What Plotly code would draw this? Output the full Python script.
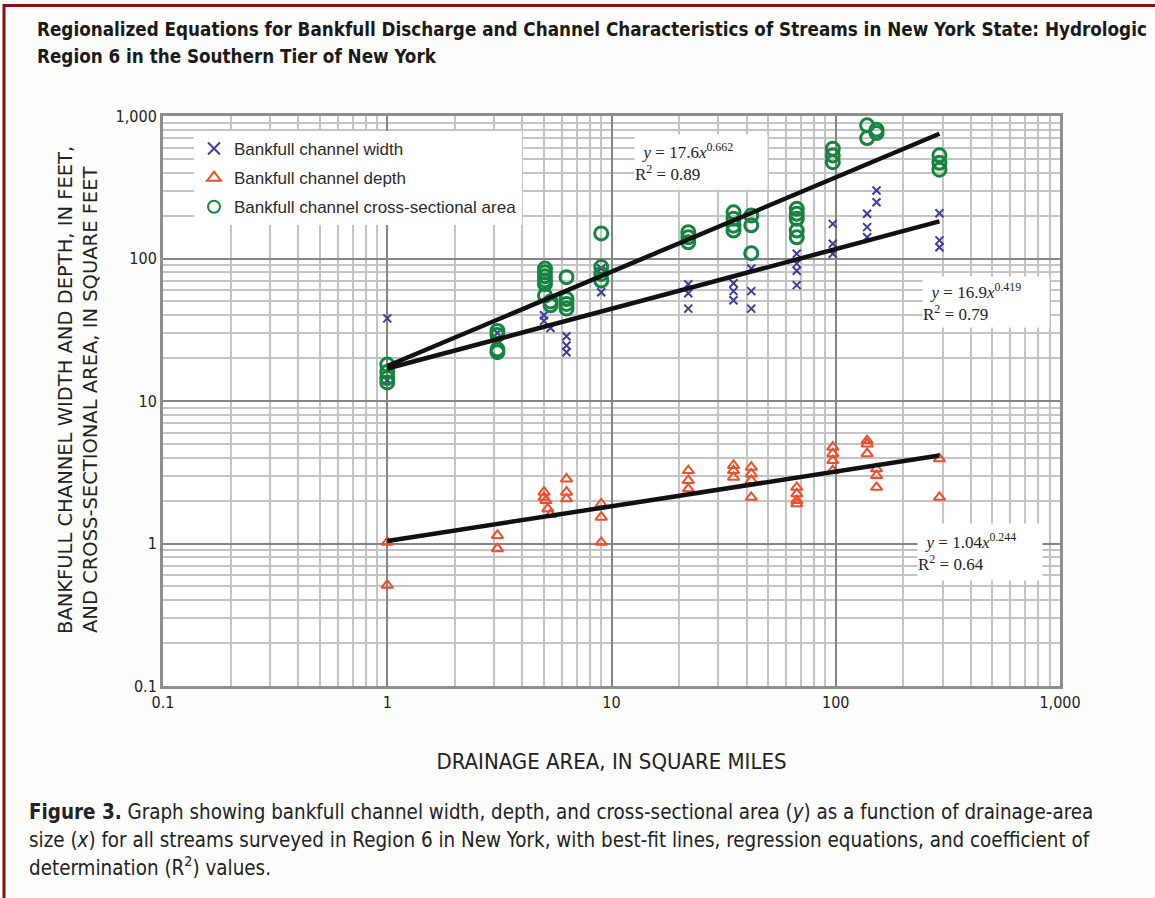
import plotly.graph_objects as go

# ---------------- data ----------------
width_x = [1, 1, 3.1, 5.0, 5.0, 5.35, 6.3, 6.3, 6.3, 9, 9,
           22, 22, 22, 35, 35, 35, 42, 42, 42, 67, 67, 67, 67,
           97, 97, 97, 138, 138, 138, 152, 152, 290, 290, 290]
width_y = [38, 14, 30, 40, 36.5, 32.5, 28.5, 24.5, 22, 85, 58,
           66, 57, 44.5, 67, 59, 51, 85, 59, 44.5, 108, 92, 82, 65,
           175, 127, 108, 206, 166, 141, 300, 248, 208, 134, 120]

depth_x = [1, 1, 3.1, 3.1, 5.0, 5.0, 5.1, 5.2, 5.35, 6.3, 6.3, 6.3, 9, 9, 9,
           22, 22, 22, 35, 35, 35, 42, 42, 42, 42, 67, 67, 67, 67,
           97, 97, 97, 97, 138, 138, 138, 152, 152, 152, 290, 290]
depth_y = [1.02, 0.51, 1.14, 0.92, 2.29, 2.11, 2.0, 1.75, 1.6, 2.84, 2.29, 2.06, 1.9, 1.53, 1.02,
           3.25, 2.77, 2.42, 3.53, 3.25, 2.92, 3.43, 3.08, 2.77, 2.11, 2.48, 2.23, 2.0, 1.9,
           4.74, 4.27, 3.82, 3.25, 5.28, 5.0, 4.27, 3.34, 3.0, 2.48, 3.93, 2.11]

area_x = [1, 1, 1, 1, 3.1, 3.1, 3.1, 3.1, 5.05, 5.05, 5.05, 5.05, 5.05, 5.05, 5.35, 5.35,
          6.3, 6.3, 6.3, 6.3, 9, 9, 9, 9, 22, 22, 22, 35, 35, 35, 35, 42, 42, 42,
          67, 67, 67, 67, 67, 97, 97, 97, 138, 138, 152, 152, 290, 290, 290]
area_y = [18, 16, 14.5, 13.5, 31, 29, 23, 22, 85, 80, 75, 70, 66, 55, 50, 47,
          74, 52, 48, 44.5, 150, 87, 78, 70, 153, 141, 130, 211, 190, 170, 157, 200, 171, 109,
          223, 206, 190, 157, 141, 589, 529, 474, 860, 700, 800, 760, 530, 470, 420]

# best-fit line end points (from the regression equations shown)
fit_x = [1, 290]
width_fit = [16.9, 182]
area_fit = [17.6, 750]
depth_fit = [1.04, 4.15]

tick_vals = [0.1, 1, 10, 100, 1000]
tick_text = ["0.1", "1", "10", "100", "1,000"]

y_title_lines = ["BANKFULL CHANNEL WIDTH AND DEPTH, IN FEET,",
                 "AND CROSS-SECTIONAL AREA, IN SQUARE FEET"]

NARROW = "DejaVu Sans Condensed, Liberation Sans Narrow, Arial Narrow, sans-serif"
WIDE = "DejaVu Sans, Liberation Sans, Arial, sans-serif"
SANS = "Liberation Sans, Arial, sans-serif"
SERIF = "Liberation Serif, Times New Roman, serif"

C_WIDTH = "#3E3B9C"
C_DEPTH = "#EF4E2A"
C_AREA = "#15843E"

# plot area in pixels: left 163, right 1060, top 116, bottom 686
L, R, T, B = 163, 1060, 116, 686
W, H = 1155, 898


def px(x):
    return (x - L) / (R - L)


def py(y):
    return (B - y) / (B - T)


fig = go.Figure()

fig.add_trace(go.Scatter(
    x=width_x, y=width_y, mode="markers", name="Bankfull channel width",
    legendgroup="w",
    marker=dict(symbol="x-thin", size=8, color=C_WIDTH,
                line=dict(width=2, color=C_WIDTH))))
fig.add_trace(go.Scatter(
    x=depth_x, y=depth_y, mode="markers", name="Bankfull channel depth",
    legendgroup="d",
    marker=dict(symbol="triangle-up-open", size=10, color=C_DEPTH,
                line=dict(width=2, color=C_DEPTH))))
fig.add_trace(go.Scatter(
    x=area_x, y=area_y, mode="markers", name="Bankfull channel cross-sectional area",
    legendgroup="a",
    marker=dict(symbol="circle-open", size=13, color=C_AREA,
                line=dict(width=3, color=C_AREA))))

for yy in (area_fit, width_fit, depth_fit):
    fig.add_trace(go.Scatter(x=fit_x, y=yy, mode="lines", showlegend=False,
                             hoverinfo="skip",
                             line=dict(color="#111111", width=4.5)))

axis_common = dict(
    type="log", range=[-1, 3],
    tickvals=tick_vals, ticktext=tick_text,
    showgrid=True, gridcolor="#858585", gridwidth=1.5,
    minor=dict(dtick="D1", showgrid=True, gridcolor="#C4C4C4", gridwidth=2, ticks=""),
    showline=True, linecolor="#8E8E8E", linewidth=3, mirror=True,
    ticks="", zeroline=False,
    tickfont=dict(family=NARROW, size=16, color="#222222"),
)

fig.update_xaxes(**axis_common,
                 title=dict(text="DRAINAGE AREA, IN SQUARE MILES",
                            font=dict(family=NARROW, size=22, color="#222222"),
                            standoff=43))
fig.update_yaxes(**axis_common)

annotations = []
# y-axis title (two rotated lines, placed as in the reference)
for txt, xx, yy in zip(y_title_lines, [65, 90], [390, 400]):
    annotations.append(dict(
        xref="paper", yref="paper", x=px(xx), y=py(yy), xanchor="center", yanchor="middle",
        showarrow=False, text=txt, textangle=-90,
        font=dict(family=WIDE, size=19.5, color="#222222")))

# title
annotations.append(dict(
    xref="paper", yref="paper", x=px(35), y=py(30), xanchor="left", yanchor="middle",
    showarrow=False,
    text="<b>Regionalized Equations for Bankfull Discharge and Channel Characteristics of Streams in New York State: Hydrologic</b>",
    font=dict(family=NARROW, size=18.7, color="#1A1A1A")))
annotations.append(dict(
    xref="paper", yref="paper", x=px(35), y=py(57), xanchor="left", yanchor="middle",
    showarrow=False,
    text="<b>Region 6 in the Southern Tier of New York</b>",
    font=dict(family=NARROW, size=18.7, color="#1A1A1A")))

# caption
cap_lines = [
    "<b>Figure 3.</b> Graph showing bankfull channel width, depth, and cross-sectional area (<i>y</i>) as a function of drainage-area",
    "size (<i>x</i>) for all streams surveyed in Region 6 in New York, with best-fit lines, regression equations, and coefficient of",
    "determination (R<sup>2</sup>) values.",
]
for txt, yy in zip(cap_lines, [812, 840, 867]):
    annotations.append(dict(
        xref="paper", yref="paper", x=px(27), y=py(yy), xanchor="left", yanchor="middle",
        showarrow=False, text=txt,
        font=dict(family=NARROW, size=20.4, color="#222222")))

# regression equation boxes
eqs = [
    ("&nbsp;&nbsp;<i>y</i> = 17.6<i>x</i><sup>0.662</sup><br>R<sup>2</sup> = 0.89", 701, 161.5, 132, 54),
    ("&nbsp;&nbsp;<i>y</i> = 16.9<i>x</i><sup>0.419</sup><br>R<sup>2</sup> = 0.79", 986, 302, 126, 50),
    ("&nbsp;&nbsp;<i>y</i> = 1.04<i>x</i><sup>0.244</sup><br>R<sup>2</sup> = 0.64", 980, 552, 124, 56),
]
for txt, cx, cy, w, h in eqs:
    annotations.append(dict(
        xref="paper", yref="paper", x=px(cx), y=py(cy), xanchor="center", yanchor="middle",
        showarrow=False, text=txt, align="left", width=w, height=h,
        bgcolor="#FFFFFF", borderpad=0,
        font=dict(family=SERIF, size=17, color="#222222")))

fig.update_layout(
    width=W, height=H,
    margin=dict(l=L, r=W - R, t=T, b=H - B, pad=0),
    paper_bgcolor="#FDFDFB", plot_bgcolor="#FFFFFF",
    showlegend=True,
    legend=dict(
        x=px(194), y=py(131), xanchor="left", yanchor="top",
        bgcolor="#FFFFFF", borderwidth=0,
        font=dict(family=SANS, size=17, color="#2A2A2A"),
        tracegroupgap=4, itemsizing="constant",
    ),
    annotations=annotations,
    shapes=[
        dict(type="line", xref="paper", yref="paper", x0=px(4), x1=px(1160),
             y0=py(5.5), y1=py(5.5), line=dict(color="#8B0D0D", width=3)),
        dict(type="line", xref="paper", yref="paper", x0=px(4), x1=px(4),
             y0=py(4), y1=py(900), line=dict(color="#8B0D0D", width=3)),
    ],
)

fig.write_html("out.html")
